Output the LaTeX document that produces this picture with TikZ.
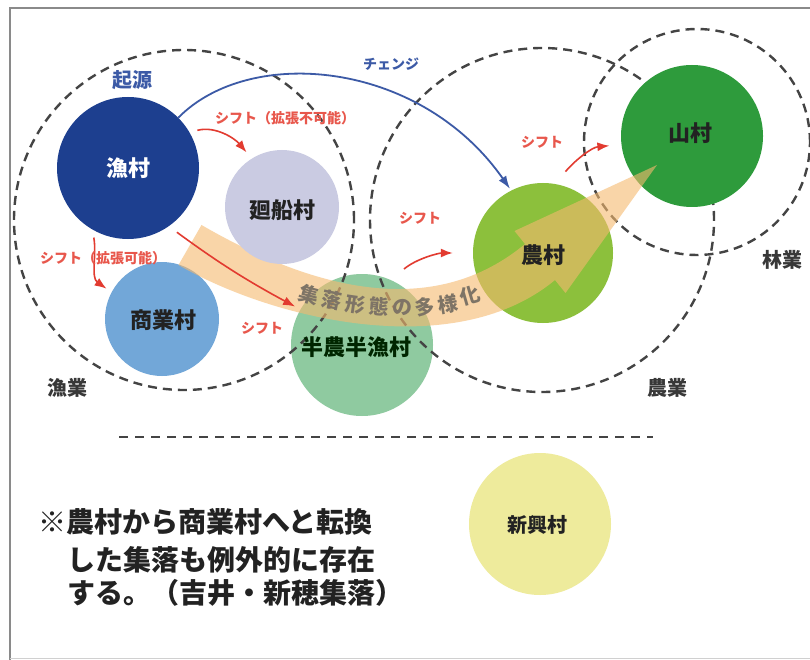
\documentclass[tikz,border=0pt]{standalone}
\usepackage{fontspec}
\setmainfont{Noto Sans CJK JP}
\usetikzlibrary{arrows.meta,calc}
\definecolor{cGyo}{HTML}{1D3F8F}
\definecolor{cKai}{HTML}{CACBE2}
\definecolor{cSho}{HTML}{72A7D8}
\definecolor{cHan}{HTML}{8FCAA0}
\definecolor{cNou}{HTML}{8CC03C}
\definecolor{cSan}{HTML}{2E9B3C}
\definecolor{cShin}{HTML}{EEEB9C}
\definecolor{bandc}{HTML}{F5B96E}
\definecolor{bandtext}{HTML}{7E7466}
\definecolor{zonegray}{HTML}{444444}
\definecolor{shiftred}{HTML}{E23B30}
\definecolor{shiftlab}{HTML}{E8574C}
\definecolor{changeblue}{HTML}{3C5AA6}
\definecolor{framegray}{HTML}{8A8A8A}
\definecolor{darktext}{HTML}{222222}
\begin{document}
\begin{tikzpicture}[x=1pt,y=-1pt,
  village/.style={circle, inner sep=0pt, minimum size=#1, draw=none},
  zone/.style={circle, inner sep=0pt, minimum size=#1, draw=zonegray, line width=2.4pt, dash pattern=on 9pt off 6pt},
  lbl/.style={font=\fontsize{22}{26}\selectfont\bfseries, text=darktext, inner sep=0pt},
  zonelbl/.style={font=\fontsize{20}{24}\selectfont\bfseries, text=darktext!90, inner sep=0pt},
  shiftlbl/.style={font=\fontsize{14}{16}\selectfont\bfseries, text=shiftlab, inner sep=0pt},
  shiftarrow/.style={draw=shiftred, line width=1.6pt, -{Latex[length=12pt,width=9pt]}},
  bluearrow/.style={draw=changeblue, line width=1.8pt, -{Latex[length=13pt,width=9pt]}},
  bandtxt/.style={font=\fontsize{20}{24}\selectfont\bfseries, text=bandtext, inner sep=0pt},
  notetxt/.style={font=\fontsize{28}{32}\selectfont\bfseries, text=darktext, inner sep=0pt, anchor=west},
  divider/.style={draw=zonegray, line width=2.4pt, dash pattern=on 9pt off 7pt}
]
\useasboundingbox (0,0) rectangle (810,660);
\fill[white] (0,0) rectangle (810,660);
% frame
\draw[framegray, line width=2pt] (810,8) -- (10,8) -- (10,660);
\draw[framegray!40, line width=1pt] (10,658) -- (810,658);

% villages
\node[village=142pt, fill=cGyo] (gyoson) at (128,168) {};
\node[village=114pt, fill=cSho] (shogyo) at (162,319) {};
\node[village=142pt, fill=cHan] (hanno) at (362,345) {};
\node[village=140pt, fill=cNou] (noson) at (543,253) {};
\node[village=142pt, fill=cShin] (shinko) at (540,524) {};

% zones
\node[zone=340pt] (zgyo) at (184,220) {};
\node[zone=344pt] (znou) at (542,220) {};
\node[zone=226pt] (zrin) at (697,142) {};

\node[village=142pt, fill=cSan] (sanson) at (692,136) {};

% diversification band
\fill[bandc, opacity=0.6] (201.5,225) .. controls (296.5,280) and (425,327) .. (525,244)
  -- (514.5,231) -- (657,165) -- (565.5,293) -- (555,280)
  .. controls (455,363) and (273.5,320) .. (178.5,265) -- cycle;
\node[village=114pt, fill=cKai] (kaisen) at (282,207) {};
\path (190,245) .. controls (285,300) and (440,345) .. (540,262)
  node[pos=0.355, sloped, bandtxt] (bt1) {集}
  node[pos=0.417, sloped, bandtxt] (bt2) {落}
  node[pos=0.479, sloped, bandtxt] (bt3) {形}
  node[pos=0.541, sloped, bandtxt] (bt4) {態}
  node[pos=0.603, sloped, bandtxt] (bt5) {の}
  node[pos=0.665, sloped, bandtxt] (bt6) {多}
  node[pos=0.727, sloped, bandtxt] (bt7) {様}
  node[pos=0.789, sloped, bandtxt, yshift=3pt] (bt8) {化};

% village labels
\node[lbl, text=white] (gyoson-t) at (gyoson) {漁村};
\node[lbl] (kaisen-t) at ($(kaisen)+(0,3)$) {廻船村};
\node[lbl] (shogyo-t) at ($(shogyo)+(1,1)$) {商業村};
\node[lbl, text=black!85!green] (hanno-t) at ($(hanno)+(-6,2)$) {半農半漁村};
\node[lbl] (noson-t) at ($(noson)+(0,2)$) {農村};
\node[lbl] (sanson-t) at ($(sanson)+(-2,-3)$) {山村};
\node[lbl, font=\fontsize{20}{24}\selectfont\bfseries] (shinko-t) at ($(shinko)+(-3,1)$) {新興村};

% zone labels
\node[zonelbl] (l-gyo) at (67,388) {漁業};
\node[zonelbl] (l-nou) at (667,388) {農業};
\node[zonelbl] (l-rin) at (782,260) {林業};
\node[zonelbl, text=changeblue] (l-kigen) at (132,80) {起源};

% divider
\coordinate (dl) at (119,437);
\coordinate (dr) at (653,437);
\draw[divider] (dl) -- (dr);

% note
\node[notetxt] (note1) at (38,522) {※農村から商業村へと転換};
\node[notetxt] (note2) at (67,560) {した集落も例外的に存在};
\node[notetxt] (note3) at (67,593) {する。（吉井・新穂集落）};

% change arrow
\draw[bluearrow, shorten >=2pt] (gyoson.45) .. controls (250,45) and (420,60) .. (noson.117);
\node[shiftlbl, text=changeblue] (l-change) at (391,64) {チェンジ};

% shift arrows
\draw[shiftarrow, shorten <=8pt, shorten >=8pt] (gyoson.30) to[out=15,in=130] (kaisen.122);
\draw[shiftarrow, shorten <=8pt, shorten >=6pt] (gyoson.240) to[out=-80,in=145] (shogyo.152);
\draw[shiftarrow, shorten <=10pt, shorten >=6pt] (gyoson.-55) to[bend right=4] (hanno.150);
\draw[shiftarrow, shorten <=17pt, shorten >=20pt] (hanno.66) to[out=40,in=180] (noson.180);
\draw[shiftarrow, shorten <=16pt, shorten >=12pt] (noson.80) to[out=50,in=185] (sanson.187);

\node[shiftlbl] (s1) at (285,118) {シフト（拡張不可能）};
\node[shiftlbl] (s2) at (103,258) {シフト（拡張可能）};
\node[shiftlbl] (s3) at (262,328) {シフト};
\node[shiftlbl] (s4) at (420,218) {シフト};
\node[shiftlbl] (s5) at (542,142) {シフト};
\end{tikzpicture}
\end{document}
